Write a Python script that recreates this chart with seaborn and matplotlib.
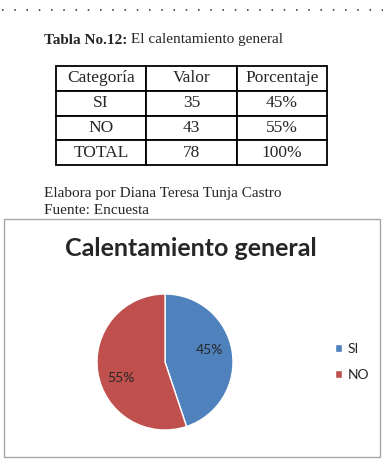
import matplotlib
matplotlib.use("Agg")
import matplotlib.pyplot as plt
from matplotlib.patches import Rectangle
import seaborn as sns

# datos de la tabla No.12
categorias = ["SI", "NO"]
valores = [35, 43]
porcentajes = ["45%", "55%"]
total_valor = 78
total_pct = "100%"
encabezado = ["Categoría", "Valor", "Porcentaje"]
colores = ["#4F81BD", "#C0504D"]

sns.set_theme(style="white")
plt.rcParams["font.family"] = ["Liberation Serif", "DejaVu Serif"]

fig = plt.figure(figsize=(3.88, 4.63), dpi=100)
W, H = 388, 463

# fondo en coordenadas de pixel
ax = fig.add_axes([0, 0, 1, 1])
ax.set_xlim(0, W)
ax.set_ylim(H, 0)
ax.axis("off")

# linea punteada superior
ax.plot([2, 383], [10, 10], color="#555555", lw=1.4, ls=(0, (0.8, 5.5)))

t = ax.text(44, 40, "Tabla No.12:", fontsize=11, fontweight="bold", va="center")
ax.annotate(" El calentamiento general", xy=(1, 0.5), xycoords=t,
            fontsize=11, va="center")

# tabla
filas = [[c, str(v), p] for c, v, p in zip(categorias, valores, porcentajes)]
filas.append(["TOTAL", str(total_valor), total_pct])
tabla = ax.table(cellText=filas, colLabels=encabezado, cellLoc="center",
                 bbox=[56 / W, 1 - 165 / H, 271 / W, 99 / H])
tabla.auto_set_font_size(False)
for (r, c), cell in tabla.get_celld().items():
    cell.set_linewidth(1.3)
    cell.set_edgecolor("black")
    cell.get_text().set_fontsize(12.5)
    cell.get_text().set_fontfamily(["Liberation Serif"])

ax.text(44, 194, "Elabora por Diana Teresa Tunja Castro", fontsize=11, va="center")
ax.text(44, 211, "Fuente: Encuesta", fontsize=11, va="center")

# recuadro del grafico
ax.add_patch(Rectangle((4, 219), 376, 238, fill=False, edgecolor="#a6a6a6", lw=1))
ax.text(191, 248, "Calentamiento general", fontsize=18, fontweight="bold",
        ha="center", va="center", family=["Lato", "DejaVu Sans"])

# pastel
cx, cy, r = 165, 362, 68
pax = fig.add_axes([(cx - r) / W, 1 - (cy + r) / H, 2 * r / W, 2 * r / H])
wedges, textos = pax.pie(valores, colors=colores, startangle=90, counterclock=False,
                         wedgeprops=dict(edgecolor="white", linewidth=1))
pax.text(0.65, 0.18, porcentajes[0], ha="center", va="center", fontsize=10,
         color="#262626", family=["Lato", "DejaVu Sans"])
pax.text(-0.65, -0.23, porcentajes[1], ha="center", va="center", fontsize=10,
         color="#262626", family=["Lato", "DejaVu Sans"])
pax.set_xlim(-1, 1)
pax.set_ylim(-1, 1)

fig.legend(wedges, categorias, loc="center left",
           bbox_to_anchor=(322 / W, 1 - 362 / H), frameon=False,
           handlelength=0.55, handleheight=0.55, handletextpad=0.4,
           labelspacing=1.0, prop={"family": ["Lato", "DejaVu Sans"], "size": 10})

fig.savefig("out.png", dpi=100)
